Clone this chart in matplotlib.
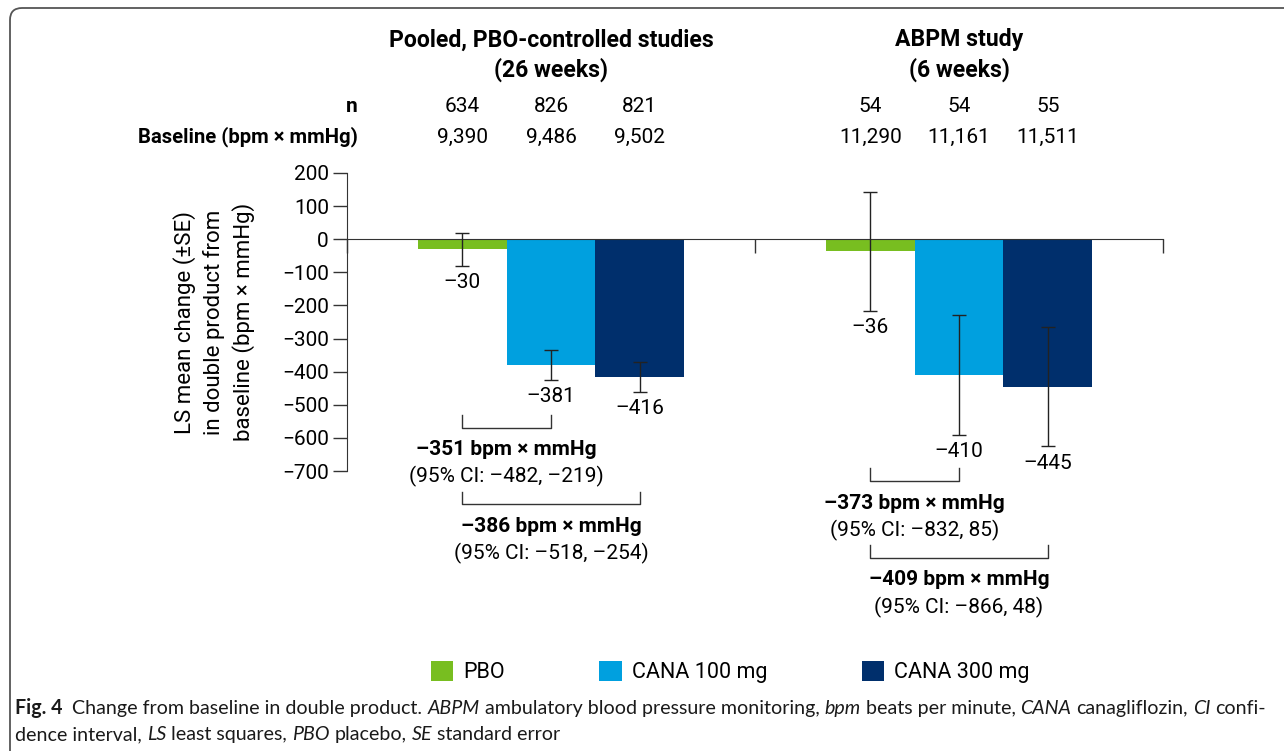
import numpy as np
import matplotlib
matplotlib.use('Agg')
import matplotlib.pyplot as plt
from matplotlib import font_manager, transforms
from matplotlib.patches import FancyBboxPatch
from matplotlib.font_manager import FontProperties

# data
treatments = ['PBO', 'CANA 100 mg', 'CANA 300 mg']
colors = ['#78be20', '#00a0df', '#002f6c']
groups = ['Pooled, PBO-controlled studies\n(26 weeks)', 'ABPM study\n(6 weeks)']
pooled_mean = [-30, -381, -416]
pooled_se = [50, 45, 46]
abpm_mean = [-36, -410, -445]
abpm_se = [180, 180, 181]
pooled_n = [634, 826, 821]
abpm_n = [54, 54, 55]
pooled_base = ['9,390', '9,486', '9,502']
abpm_base = ['11,290', '11,161', '11,511']
# differences vs PBO: (estimate, CI low, CI high)
pooled_diff = [(-351, -482, -219), (-386, -518, -254)]
abpm_diff = [(-373, -832, 85), (-409, -866, 48)]

means = [pooled_mean, abpm_mean]
ses = [pooled_se, abpm_se]
ns = [pooled_n, abpm_n]
bases = [pooled_base, abpm_base]
diffs = [pooled_diff, abpm_diff]
bracket_y = [[-569, -801], [-730, -962]]   # bracket bottoms (layout)

names = {f.name for f in font_manager.fontManager.ttflist}
main_font = 'Roboto' if 'Roboto' in names else 'Liberation Sans'
cap_font = 'Lato' if 'Lato' in names else 'DejaVu Sans'

plt.rcParams['font.family'] = [main_font, 'DejaVu Sans']
FS = 15

def dash(v):
    return str(v).replace('-', '\u2013')

W, H = 1284, 751
fig = plt.figure(figsize=(W / 100, H / 100), dpi=100)
ax = fig.add_axes([347 / W, 1 - 471 / H, (1163 - 347) / W, (471 - 173) / H])

width = 0.2175
offs = np.array([-width, 0, width])
for g in range(2):
    xs = g + 0.5 + offs
    for i in range(3):
        ax.bar(xs[i], means[g][i], width, color=colors[i],
               label=treatments[i] if g == 0 else None, zorder=2)
    ax.errorbar(xs, means[g], yerr=ses[g], fmt='none', ecolor='#222222',
                elinewidth=1, capsize=4.7, capthick=1, zorder=3)
    for i in range(3):
        ax.annotate(dash(means[g][i]), xy=(xs[i], means[g][i] - ses[g][i]),
                    xytext=(0, -12), textcoords='offset points',
                    ha='center', va='center', fontsize=FS, annotation_clip=False)
    # brackets to PBO
    for k, (est, lo, hi) in enumerate(diffs[g]):
        x0, x1 = xs[0], xs[k + 1]
        yb = bracket_y[g][k]
        ax.plot([x0, x0, x1, x1], [yb + 39, yb, yb, yb + 39], color='#333333',
                lw=1, clip_on=False)
        xm = (x0 + x1) / 2
        ax.annotate(f'{dash(est)} bpm \u00d7 mmHg', xy=(xm, yb), xytext=(0, -16),
                    textcoords='offset points', ha='center', va='center',
                    fontsize=FS, fontweight='bold', annotation_clip=False)
        ax.annotate(f'(95% CI: {dash(lo)}, {dash(hi)})', xy=(xm, yb),
                    xytext=(0, -35.5), textcoords='offset points',
                    ha='center', va='center', fontsize=FS, annotation_clip=False)

ax.set_xlim(0, 2)
ax.set_ylim(-700, 200)
ax.set_yticks(np.arange(-700, 201, 100))
ax.tick_params(axis='y', labelsize=FS, length=10, width=1, color='#333333', pad=3)
ax.set_xticks([0, 1, 2])
ax.tick_params(axis='x', length=10, width=1, color='#333333', labelbottom=False)
for s in ['top', 'right']:
    ax.spines[s].set_visible(False)
ax.spines['bottom'].set_position(('data', 0))
ax.spines['left'].set_color('#333333')
ax.spines['bottom'].set_color('#333333')
ax.set_ylabel('LS mean change (\u00b1SE)\nin double product from\nbaseline (bpm \u00d7 mmHg)',
              fontsize=16, linespacing=1.38, ha='center', va='center')
ax.yaxis.set_label_coords(-0.163, 0.5)

# header rows
bt = transforms.blended_transform_factory(ax.transData, fig.transFigure)
for g in range(2):
    xs = g + 0.5 + offs
    ax.text(g + 0.5, 1 - 55 / H, groups[g], transform=bt, ha='center', va='center',
            fontsize=16.6, fontweight='bold', linespacing=1.3)
    for i in range(3):
        ax.text(xs[i], 1 - 107 / H, str(ns[g][i]), transform=bt, ha='center',
                va='center', fontsize=FS)
        ax.text(xs[i], 1 - 137 / H, bases[g][i], transform=bt, ha='center',
                va='center', fontsize=FS)
fig.text(358 / W, 1 - 107 / H, 'n', ha='right', va='center', fontsize=FS,
         fontweight='bold')
fig.text(358 / W, 1 - 137 / H, 'Baseline (bpm \u00d7 mmHg)', ha='right', va='center',
         fontsize=14.6, fontweight='bold')

# legend
fig.legend(loc='center', bbox_to_anchor=(730 / W, 1 - 672 / H), ncol=3, frameon=False,
           fontsize=FS + 0.5, handlelength=1.05, handleheight=1.05,
           handletextpad=0.45, columnspacing=4.4)

# frame
frame = FancyBboxPatch((10, -30), W + 40, H - 10 + 30 + 2, boxstyle='round,pad=0,rounding_size=12',
                       transform=None, fill=False, edgecolor='#555555', lw=1.3)
fig.add_artist(frame)

# caption
renderer = fig.canvas.get_renderer()
line1 = [('Fig. 4', 'bold', 'normal'), ('  Change from baseline in double product. ', 'normal', 'normal'),
         ('ABPM', 'normal', 'italic'), (' ambulatory blood pressure monitoring, ', 'normal', 'normal'),
         ('bpm', 'normal', 'italic'), (' beats per minute, ', 'normal', 'normal'),
         ('CANA', 'normal', 'italic'), (' canagliflozin, ', 'normal', 'normal'),
         ('CI', 'normal', 'italic'), (' confi-', 'normal', 'normal')]
line2 = [('dence interval, ', 'normal', 'normal'), ('LS', 'normal', 'italic'),
         (' least squares, ', 'normal', 'normal'), ('PBO', 'normal', 'italic'),
         (' placebo, ', 'normal', 'normal'), ('SE', 'normal', 'italic'),
         (' standard error', 'normal', 'normal')]

def tw(s, prop):
    return renderer.get_text_width_height_descent(s, prop, ismath=False)[0]

def layout(pieces, size, y=None):
    x = 15.0
    for text, wt, st in pieces:
        prop = FontProperties(family=cap_font, weight=wt, style=st, size=size)
        sp = tw('x x', prop) - tw('xx', prop)
        core = text.strip(' ')
        lead = len(text) - len(text.lstrip(' '))
        trail = len(text) - len(text.rstrip(' '))
        x += lead * sp
        if y is not None:
            fig.text(x / W, 1 - y / H, core, fontproperties=prop, ha='left',
                     va='baseline', color='#1a1a1a')
        x += tw(core, prop) + trail * sp
    return x - 15.0

w10 = layout(line1, 10)
cs = 10 * 1255 / w10
layout(line1, cs, 714)
layout(line2, cs, 740)

fig.savefig('out.png', dpi=100)
